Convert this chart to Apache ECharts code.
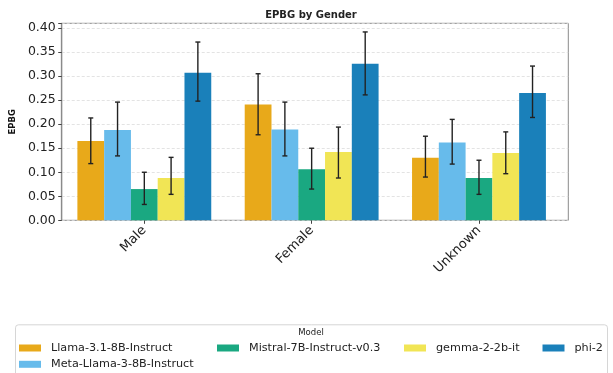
<!DOCTYPE html>
<html>
<head>
<meta charset="utf-8">
<script src="https://cdn.jsdelivr.net/npm/echarts@6/dist/echarts.min.js"></script>
<style>html,body{margin:0;padding:0;background:#fff;}#c{width:613px;height:373px;}</style>
</head>
<body>
<div id="c"></div>
<script>
const categories = ['Male', 'Female', 'Unknown'];
const models = ['Llama-3.1-8B-Instruct', 'Meta-Llama-3-8B-Instruct', 'Mistral-7B-Instruct-v0.3', 'gemma-2-2b-it', 'phi-2'];
const colors = ['#E8A91A', '#67BBEB', '#1AA881', '#F1E555', '#1A80BA'];
// mean values per model, ordered Male, Female, Unknown
const llama31 = [0.165, 0.241, 0.130];
const metaLlama3 = [0.188, 0.189, 0.162];
const mistral = [0.065, 0.106, 0.088];
const gemma = [0.088, 0.142, 0.140];
const phi2 = [0.307, 0.326, 0.265];
// error bar lower / upper values
const llama31Low = [0.118, 0.178, 0.090];
const llama31High = [0.213, 0.305, 0.175];
const metaLlama3Low = [0.134, 0.134, 0.117];
const metaLlama3High = [0.246, 0.246, 0.210];
const mistralLow = [0.033, 0.065, 0.054];
const mistralHigh = [0.100, 0.150, 0.125];
const gemmaLow = [0.054, 0.088, 0.097];
const gemmaHigh = [0.131, 0.194, 0.184];
const phi2Low = [0.248, 0.261, 0.214];
const phi2High = [0.371, 0.392, 0.321];
const yTicks = [0, 0.05, 0.10, 0.15, 0.20, 0.25, 0.30, 0.35, 0.40];

const means = [llama31, metaLlama3, mistral, gemma, phi2];
const lows = [llama31Low, metaLlama3Low, mistralLow, gemmaLow, phi2Low];
const highs = [llama31High, metaLlama3High, mistralHigh, gemmaHigh, phi2High];

const FONT = 'DejaVu Sans';
const chart = echarts.init(document.getElementById('c'), null, {renderer: 'canvas'});

const series = [];
models.forEach((m, i) => {
  series.push({
    name: m, type: 'bar', xAxisIndex: 1, yAxisIndex: 1,
    data: means[i], itemStyle: {color: colors[i]},
    barGap: '0%', barCategoryGap: '20%', z: 2
  });
});
models.forEach((m, i) => {
  series.push({
    name: 'err_' + m, type: 'custom', xAxisIndex: 1, yAxisIndex: 1, z: 5,
    data: categories.map((c, k) => [k, lows[i][k], highs[i][k]]),
    renderItem: function (params, api) {
      const k = api.value(0);
      const band = api.size([1, 0])[0];
      const bw = band * 0.8 / models.length;
      const off = (i - (models.length - 1) / 2) * bw;
      const pLo = api.coord([k, api.value(1)]);
      const pHi = api.coord([k, api.value(2)]);
      const x = pLo[0] + off;
      const cap = 2.5;
      const st = {stroke: '#222', lineWidth: 1.4};
      return {type: 'group', children: [
        {type: 'line', shape: {x1: x, y1: pLo[1], x2: x, y2: pHi[1]}, style: st},
        {type: 'line', shape: {x1: x - cap, y1: pLo[1], x2: x + cap, y2: pLo[1]}, style: st},
        {type: 'line', shape: {x1: x - cap, y1: pHi[1], x2: x + cap, y2: pHi[1]}, style: st}
      ]};
    }
  });
});

const legendPos = [[19, 341], [19, 357.3], [217, 341], [404, 341], [542.5, 341]];
const legends = models.map((m, i) => ({
  data: [m], left: legendPos[i][0], top: legendPos[i][1], padding: 0,
  itemWidth: 22, itemHeight: 7, icon: 'rect', selectedMode: false,
  textStyle: {fontFamily: FONT, fontSize: 11.2, color: '#222', lineHeight: 14, padding: [0, 0, 0, 5]}
}));

const yMax = 0.41;
const option = {
  backgroundColor: '#fff',
  animation: false,
  title: {
    text: 'EPBG by Gender', left: 311, top: 10, textAlign: 'center', padding: 0,
    textStyle: {fontFamily: FONT, fontSize: 10, fontWeight: 'bold', color: '#222'}
  },
  legend: legends,
  grid: [
    {left: 53.7, top: 23.3, width: 514.6, height: 197, show: true, borderColor: '#8a8a8a', borderWidth: 1, containLabel: false},
    {left: 60.65, top: 23.3, width: 502, height: 197, containLabel: false}
  ],
  xAxis: [
    {type: 'value', gridIndex: 0, min: 0, max: 1, show: false},
    {type: 'category', gridIndex: 1, data: categories, boundaryGap: true,
     axisLine: {show: false},
     axisTick: {show: true, alignWithLabel: true, length: 3.5, lineStyle: {color: '#444'}},
     axisLabel: {rotate: 45, margin: 8, fontFamily: FONT, fontSize: 13, color: '#222'}}
  ],
  yAxis: [
    {type: 'value', gridIndex: 0, min: 0, max: yMax, interval: 0.05,
     name: 'EPBG', nameLocation: 'middle', nameRotate: 90, nameGap: 39,
     nameTextStyle: {fontFamily: FONT, fontSize: 8.5, fontWeight: 'bold', color: '#111'},
     axisLine: {show: true, lineStyle: {color: '#8a8a8a', width: 1.3}},
     axisTick: {show: true, length: 3.5, lineStyle: {color: '#444'}},
     axisLabel: {margin: 6, fontFamily: FONT, fontSize: 12.5, color: '#222',
       formatter: function (v) {
         const t = yTicks.find(t => Math.abs(t - v) < 1e-6);
         return t === undefined ? '' : t.toFixed(2);
       }},
     splitLine: {show: true, lineStyle: {color: '#dcdcdc', type: [3, 2], width: 0.8}}},
    {type: 'value', gridIndex: 1, min: 0, max: yMax, interval: 0.05, show: false, splitLine: {show: false}}
  ],
  graphic: [
    {type: 'rect', left: 15, top: 324.3, shape: {width: 592, height: 60, r: 3},
     style: {fill: '#fff', stroke: '#d6d6d6', lineWidth: 1}, z: 0, silent: true},
    {type: 'text', x: 311, y: 332.7, z: 1,
     style: {text: 'Model', fontFamily: FONT, fontSize: 8.5, fill: '#222', align: 'center', verticalAlign: 'middle'}}
  ],
  series: series
};
chart.setOption(option);
</script>
</body>
</html>
